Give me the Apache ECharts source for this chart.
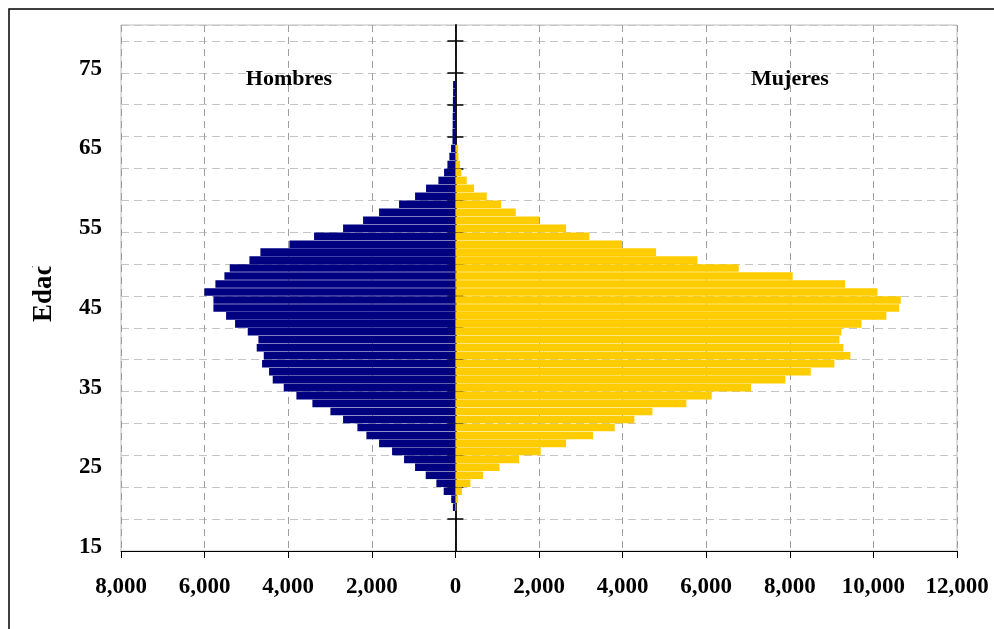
<!DOCTYPE html>
<html>
<head>
<meta charset="utf-8">
<script src="https://cdn.jsdelivr.net/npm/echarts@6/dist/echarts.min.js"></script>
<style>
  html, body { margin: 0; padding: 0; background: #fff; }
  #chart { width: 994px; height: 629px; }
</style>
</head>
<body>
<div id="chart"></div>
<script>
// Ages 15..80 (one category per age)
const ages = ["15","16","17","18","19","20","21","22","23","24","25","26","27","28","29","30","31","32","33","34","35","36","37","38","39","40","41","42","43","44","45","46","47","48","49","50","51","52","53","54","55","56","57","58","59","60","61","62","63","64","65","66","67","68","69","70","71","72","73","74","75","76","77","78","79","80"];

// Hombres (men) per age, 15..80
const hombres = [0,0,0,0,0,60,100,280,455,710,965,1228,1515,1826,2129,2344,2687,2990,3421,3804,4107,4370,4458,4625,4585,4753,4713,4968,5271,5486,5789,5789,6005,5742,5526,5399,4928,4665,3971,3381,2687,2209,1826,1348,965,702,407,271,191,144,104,70,70,65,65,60,60,55,55,0,0,0,0,0,0,0];

// Mujeres (women) per age, 15..80
const mujeres = [0,0,0,0,0,20,60,155,359,662,1053,1523,2041,2648,3293,3812,4282,4713,5526,6132,7073,7895,8501,9067,9450,9282,9187,9234,9713,10311,10614,10654,10096,9322,8070,6778,5789,4801,3987,3206,2648,2002,1443,1093,750,447,271,144,112,72,64,0,0,0,0,0,0,0,0,0,0,0,0,0,0,0];

// Value axis ticks
const xMin = -8000;
const xMax = 12000;
const xStep = 2000;

// Centre-axis tick marks: every 4th age boundary (offsets from age 15)
const centreTicks = [4,8,12,16,20,24,28,32,36,40,44,48,52,56,60,64];

const seriesNames = ["Hombres", "Mujeres"];
const axisTitle = "Edad";

const FONT = "'Liberation Serif', 'Times New Roman', serif";

function fmt(v) {
  return String(Math.abs(v)).replace(/\B(?=(\d{3})+(?!\d))/g, ",");
}

const chart = echarts.init(document.getElementById('chart'), null, { renderer: 'canvas' });

const centreAxisBase = {
  type: 'value', min: 0, max: ages.length, position: 'left',
  axisLabel: { show: false },
  splitLine: { show: false }
};

const option = {
  backgroundColor: '#ffffff',
  animation: false,
  grid: {
    left: 121, right: 37, top: 25, bottom: 78,
    show: true, borderColor: '#bdbdbd', borderWidth: 1, backgroundColor: 'transparent'
  },
  xAxis: {
    type: 'value',
    min: xMin, max: xMax, interval: xStep,
    axisLine: { show: true, onZero: false, lineStyle: { color: '#000', width: 1 } },
    axisTick: { show: true, length: 7, lineStyle: { color: '#000' } },
    axisLabel: {
      formatter: fmt, margin: 25,
      fontFamily: FONT, fontWeight: 'bold', fontSize: 23, color: '#000'
    },
    splitLine: { show: true, lineStyle: { color: '#9e9e9e', type: [7, 5], width: 1 } }
  },
  yAxis: [
    {
      type: 'category', data: ages, position: 'left',
      axisLine: { show: false, onZero: false },
      axisTick: { show: false },
      axisLabel: {
        interval: 9, margin: 19,
        fontFamily: FONT, fontWeight: 'bold', fontSize: 23, color: '#000'
      },
      splitLine: { show: true, interval: 3, lineStyle: { color: '#c4c4c4', type: [8, 5], width: 1 } }
    },
    Object.assign({}, centreAxisBase, {
      axisLine: { show: true, onZero: true, onZeroAxisIndex: 0, lineStyle: { color: '#000', width: 1.8 } },
      axisTick: { show: true, customValues: centreTicks, length: 8, inside: false, lineStyle: { color: '#000', width: 1.5 } }
    }),
    Object.assign({}, centreAxisBase, {
      axisLine: { show: false, onZero: true, onZeroAxisIndex: 0 },
      axisTick: { show: true, customValues: centreTicks, length: 8, inside: true, lineStyle: { color: '#000', width: 1.5 } }
    })
  ],
  series: [
    {
      name: seriesNames[0], type: 'bar', yAxisIndex: 0,
      data: hombres.map(v => -v),
      barGap: '-100%', barCategoryGap: '5%',
      itemStyle: { color: '#000080' },
      z: 2
    },
    {
      name: seriesNames[1], type: 'bar', yAxisIndex: 0,
      data: mujeres,
      barGap: '-100%', barCategoryGap: '5%',
      itemStyle: { color: '#FFCC00' },
      z: 2
    }
  ],
  graphic: [
    {
      type: 'rect', shape: { x: 9, y: 9, width: 1100, height: 700 },
      style: { fill: 'none', stroke: '#000', lineWidth: 1.5 }, silent: true, z: 100
    },
    {
      type: 'text', x: 289, y: 79,
      style: { text: seriesNames[0], align: 'center', verticalAlign: 'middle',
               font: "bold 22px " + FONT, fill: '#000' }, z: 100
    },
    {
      type: 'text', x: 790, y: 79,
      style: { text: seriesNames[1], align: 'center', verticalAlign: 'middle',
               font: "bold 22px " + FONT, fill: '#000' }, z: 100
    },
    {
      type: 'text', x: 44, y: 322, rotation: Math.PI / 2,
      style: { text: axisTitle, align: 'left', verticalAlign: 'middle',
               font: "bold 27px " + FONT, fill: '#000' }, z: 100
    },
    {
      type: 'rect', shape: { x: 22, y: 225, width: 40, height: 41.5 },
      style: { fill: '#fff' }, silent: true, z: 101
    }
  ]
};

chart.setOption(option);
</script>
</body>
</html>
